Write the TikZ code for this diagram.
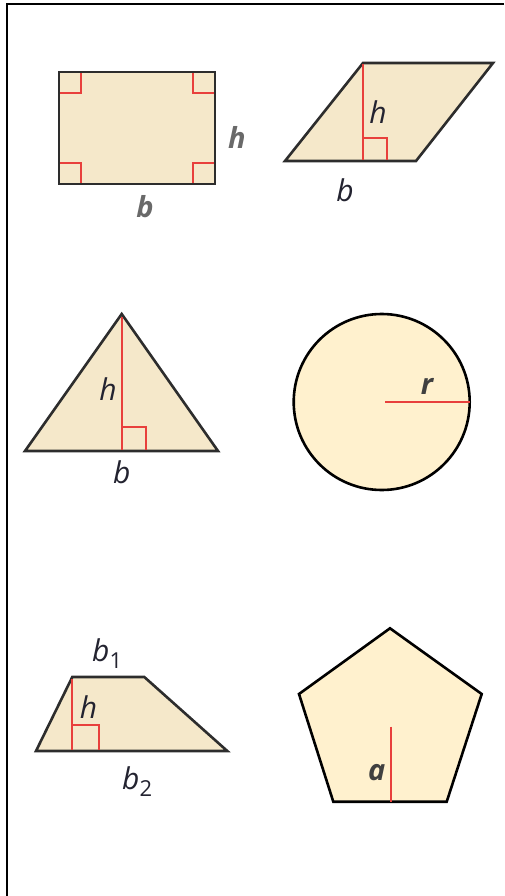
\documentclass[tikz,border=0pt]{standalone}
\usepackage{fontspec}
\setmainfont{Open Sans}
\begin{document}
\begin{tikzpicture}[x=1pt,y=-1pt,
  shapeA/.style={fill=fillA,draw=edge,line width=2.6pt,line join=miter},
  shapeB/.style={fill=fillB,draw=black,line width=2.6pt,line join=miter},
  redline/.style={draw=redc,line width=1.8pt},
  lblgray/.style={text=lgray,font=\fontsize{29}{30}\selectfont\bfseries\itshape,inner sep=0pt},
  lbldark/.style={text=ldark,font=\fontsize{30}{32}\selectfont\itshape,inner sep=0pt},
  lbldg/.style={text=ldg,font=\fontsize{29}{30}\selectfont\bfseries\itshape,inner sep=0pt}]
\definecolor{fillA}{RGB}{245,232,202}
\definecolor{fillB}{RGB}{255,241,206}
\definecolor{edge}{RGB}{45,45,45}
\definecolor{redc}{RGB}{232,64,60}
\definecolor{lgray}{RGB}{105,105,105}
\definecolor{ldark}{RGB}{35,35,48}
\definecolor{ldg}{RGB}{64,64,64}
\useasboundingbox (0,0) rectangle (504,896);
% frame
\coordinate (fr1) at (504,4);
\coordinate (fr0) at (7,4);
\coordinate (fr2) at (7,896);
\draw[line width=2.6pt] (fr1) -- (fr0) -- (fr2);
% rectangle
\draw[shapeA] (59,72) rectangle (215,184);
\draw[redline] (60,93) -- (81,93) -- (81,73);
\draw[redline] (214,93) -- (193,93) -- (193,73);
\draw[redline] (60,163) -- (81,163) -- (81,183);
\draw[redline] (214,163) -- (193,163) -- (193,183);
\node[lblgray] (rh) at (237,137) {h};
\node[lblgray] (rb) at (145,207) {b};
% parallelogram
\draw[shapeA] (285,161) -- (363,63) -- (493,63) -- (416,161) -- cycle;
\draw[redline] (363,64) -- (363,160);
\draw[redline] (363,138) -- (387,138) -- (387,160);
\node[lbldark] (ph) at (378,112) {h};
\node[lbldark] (pb) at (345,190) {b};
% triangle
\draw[shapeA] (25,451) -- (121.7,314) -- (218,451) -- cycle;
\draw[redline] (121.7,317) -- (121.7,450);
\draw[redline] (121.7,427) -- (146,427) -- (146,450);
\node[lbldark] (th) at (108,389) {h};
\node[lbldark] (tb) at (121.7,472) {b};
% circle
\draw[shapeB] (381.7,402) circle (88);
\coordinate (cc) at (385,402);
\coordinate (ce) at (470,402);
\draw[redline] (cc) -- (ce);
\node[lbldg] (cr) at (427,386) {r};
% trapezoid
\draw[shapeA] (36,751) -- (72.3,677) -- (144.3,677) -- (227.3,751) -- cycle;
\draw[redline] (72.3,679) -- (72.3,750);
\draw[redline] (72.3,725) -- (99,725) -- (99,750);
\node[lbldark] (zh) at (88.5,707) {h};
\node[lbldark,anchor=base west] (zb1) at (92,661) {b\raisebox{-7pt}{\fontsize{22}{22}\selectfont\upshape 1}};
\node[lbldark,anchor=base west] (zb2) at (122,789) {b\raisebox{-7pt}{\fontsize{22}{22}\selectfont\upshape 2}};
% pentagon
\draw[shapeB] (390,628.3) -- (481.7,694) -- (446.7,801.7) -- (333.3,801.7) -- (299,694) -- cycle;
\coordinate (pc) at (390.7,726.7);
\coordinate (pm) at (390.7,801.7);
\draw[redline] (pc) -- (pm);
\node[lbldg] (pa) at (376.7,773) {a};
\end{tikzpicture}
\end{document}
